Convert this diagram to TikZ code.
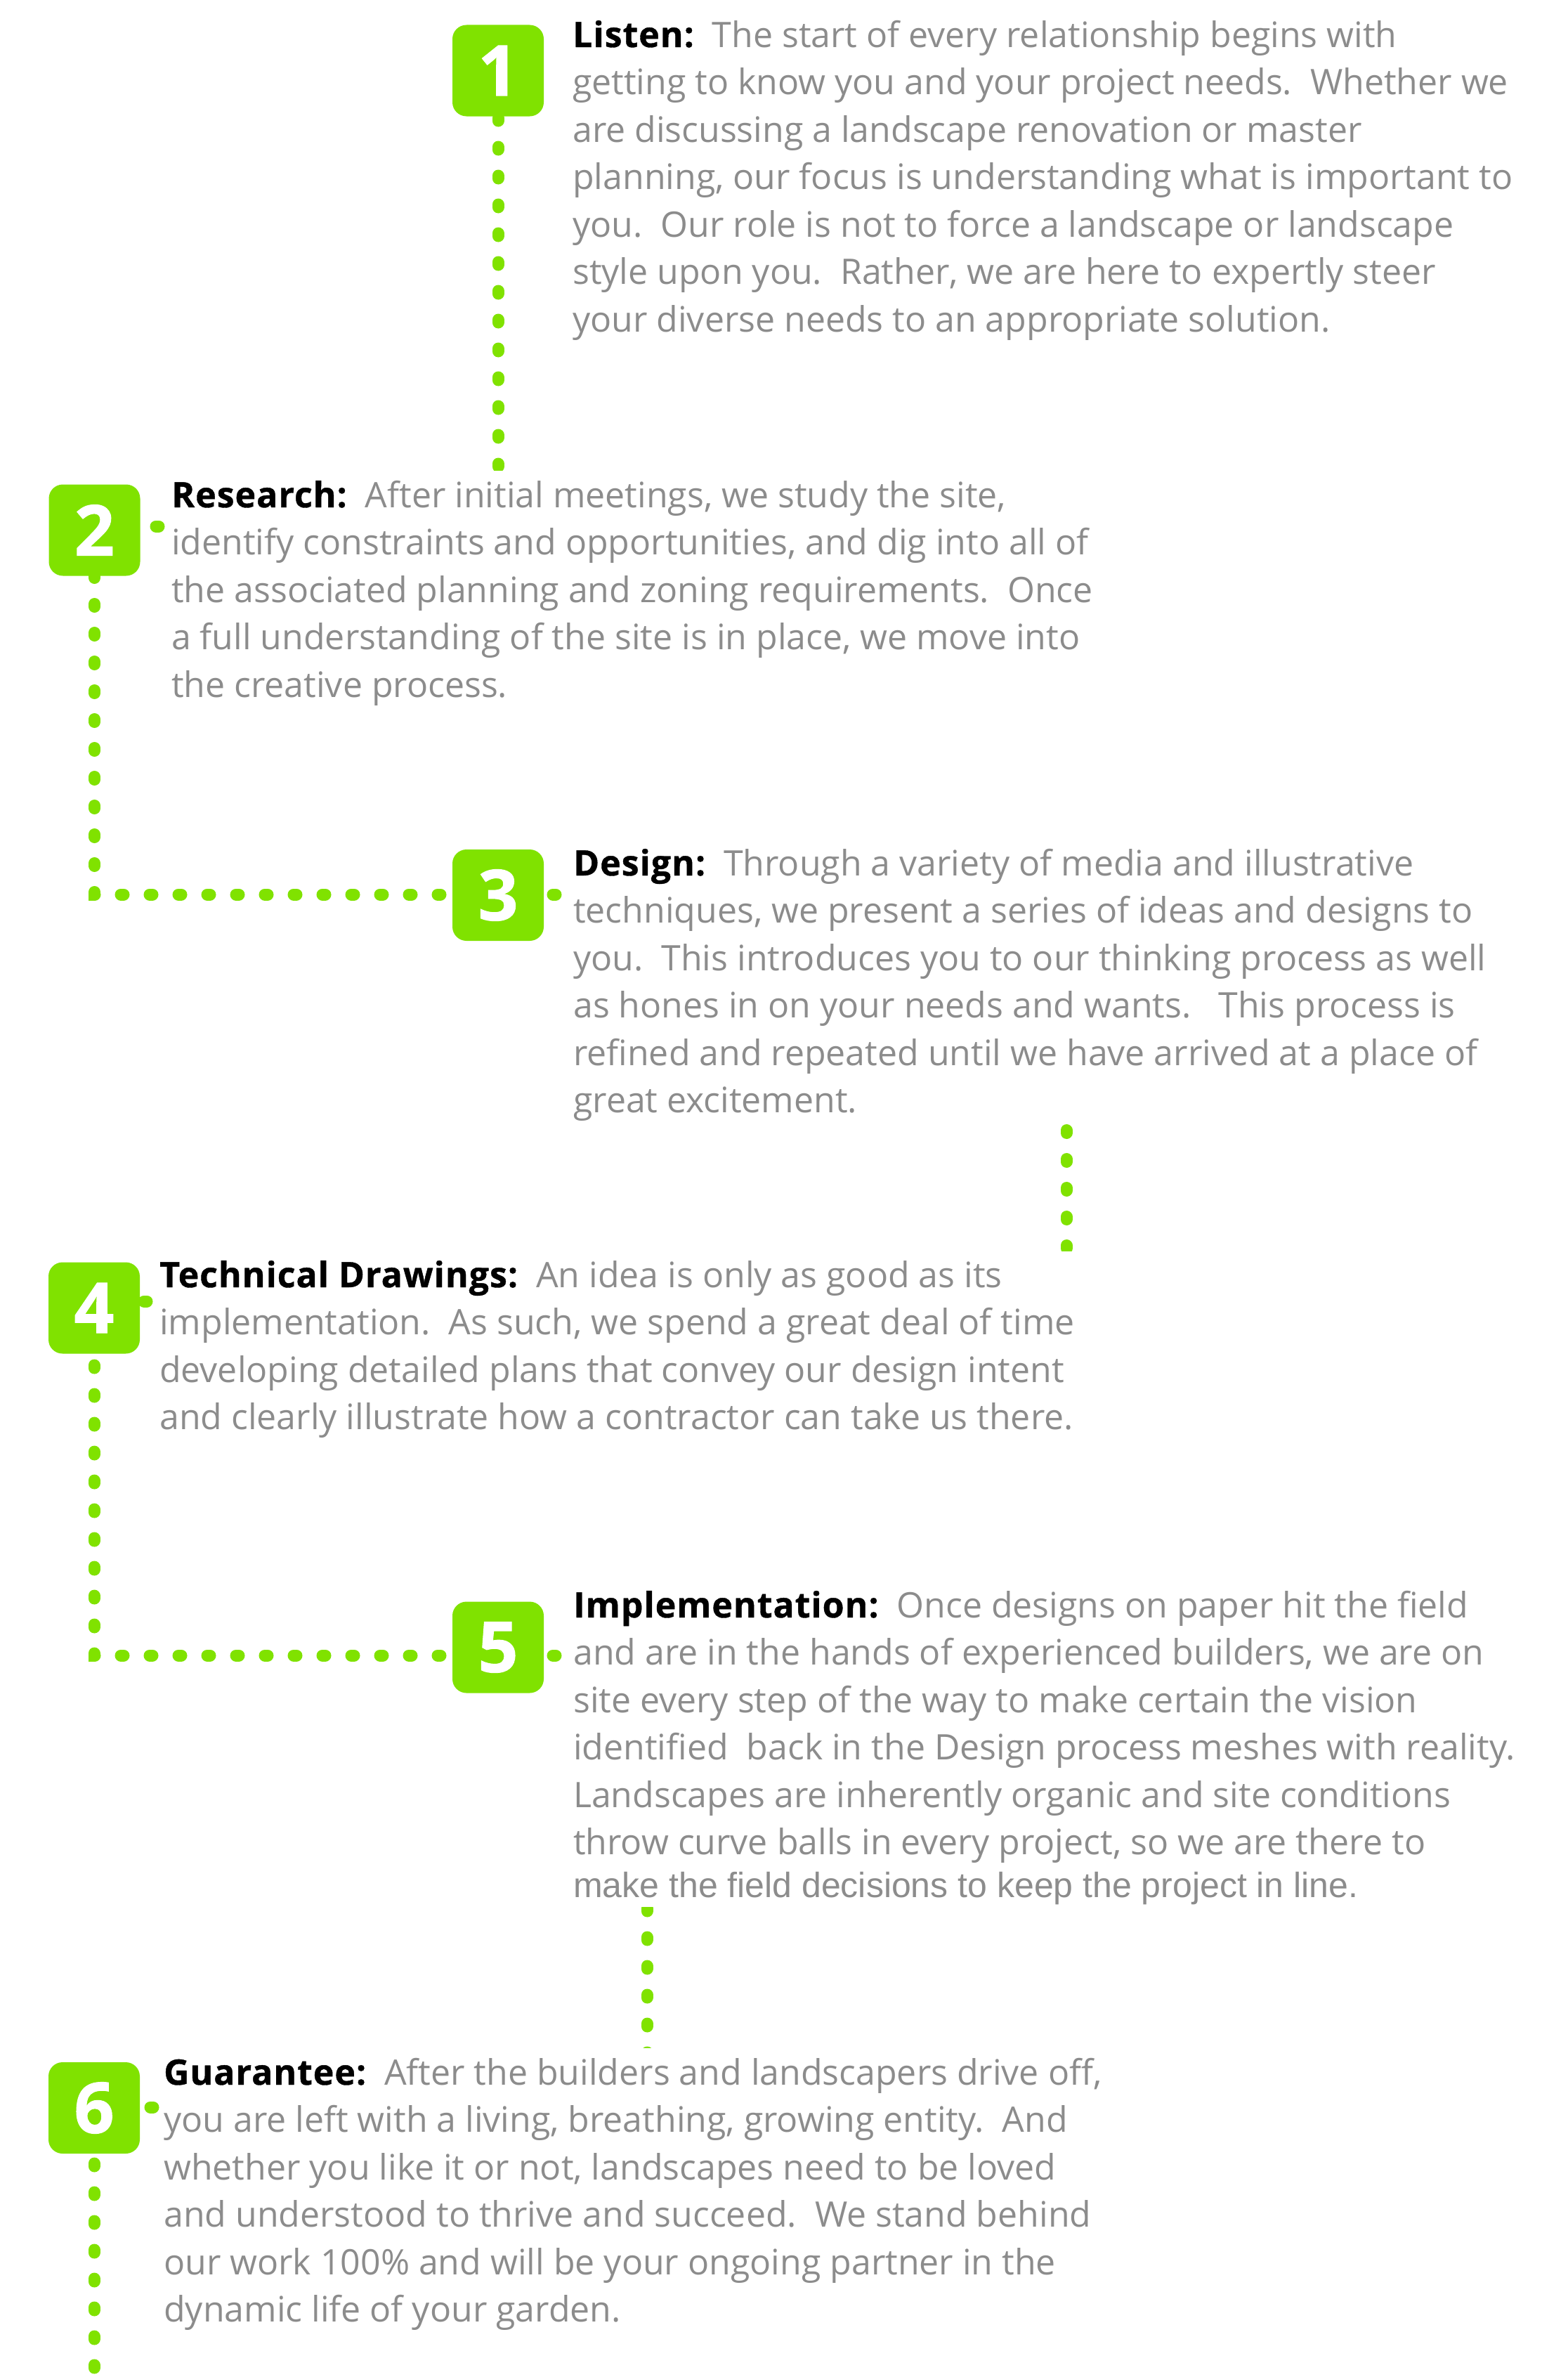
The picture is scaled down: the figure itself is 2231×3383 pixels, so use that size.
\documentclass[tikz,border=0pt]{standalone}
\usepackage{fontspec}
\setmainfont{Open Sans}
\newfontfamily\arialf{Liberation Sans}
\newfontfamily\ttlfont[FakeBold=0.8, LetterSpace=2.0]{Open Sans}
\newfontfamily\numf[FakeBold=1]{Open Sans}
\usetikzlibrary{backgrounds}
\definecolor{lgreen}{RGB}{128,226,0}
\definecolor{txtgray}{RGB}{140,140,140}
\newcommand\bodyfont{\fontsize{50}{67.5}\selectfont}
\newcommand\numfont{\numf\fontsize{100}{100}\selectfont\bfseries}
\newcommand\ttl[1]{{\color{black}\ttlfont\bfseries #1}\ \ }
\tikzset{
  dotline/.style={draw=lgreen, line width=17pt, line cap=round, dash pattern=on 4pt off 37pt},
  badge/.style={fill=lgreen, rounded corners=20pt, minimum width=130pt, minimum height=130pt, inner sep=0pt, text=white, font=\numfont},
  body/.style={anchor=base west, inner sep=0pt, align=left, text=txtgray, font=\bodyfont}
}
\begin{document}
\begin{tikzpicture}[x=1pt,y=-1pt]
\useasboundingbox (0,0) rectangle (2231,3383);
% badges
\node[badge] (b1) at (709,100.5) {1};
\node[badge] (b2) at (134.5,754.5) {2};
\node[badge] (b3) at (709,1274) {3};
\node[badge] (b4) at (134,1861.5) {4};
\node[badge] (b5) at (709,2344.5) {5};
\node[badge] (b6) at (134,3000) {6};
% texts (anchored at the baseline of their last line)
\node[body] (t1) at (815,472) {\ttl{Listen:}The start of every relationship begins with\\
getting to know you and your project needs.\ \ Whether we\\
are discussing a landscape renovation or master\\
planning, our focus is understanding what is important to\\
you.\ \ Our role is not to force a landscape or landscape\\
style upon you.\ \ Rather, we are here to expertly steer\\
your diverse needs to an appropriate solution.};
\node[body] (t2) at (244,992) {\ttl{Research:}After initial meetings, we study the site,\\
identify constraints and opportunities, and dig into all of\\
the associated planning and zoning requirements.\ \ Once\\
a full understanding of the site is in place, we move into\\
the creative process.};
\node[body] (t3) at (816,1583.5) {\ttl{Design:}Through a variety of media and illustrative\\
techniques, we present a series of ideas and designs to\\
you.\ \ This introduces you to our thinking process as well\\
as hones in on your needs and wants.\ \ \ This process is\\
refined and repeated until we have arrived at a place of\\
great excitement.};
\node[body] (t4) at (227,2034.5) {\ttl{Technical Drawings:}An idea is only as good as its\\
implementation.\ \ As such, we spend a great deal of time\\
developing detailed plans that convey our design intent\\
and clearly illustrate how a contractor can take us there.};
\node[body] (t5) at (816,2639.5) {\ttl{Implementation:}Once designs on paper hit the field\\
and are in the hands of experienced builders, we are on\\
site every step of the way to make certain the vision\\
identified\ \ back in the Design process meshes with reality.\\
Landscapes are inherently organic and site conditions\\
throw curve balls in every project, so we are there to};
\node[body, font=\arialf\fontsize{50}{60}\selectfont] (t5b) at (816,2700) {make the field decisions to keep the project in line.};
\node[body] (t6) at (233,3304.5) {\ttl{Guarantee:}After the builders and landscapers drive off,\\
you are left with a living, breathing, growing entity.\ \ And\\
whether you like it or not, landscapes need to be loved\\
and understood to thrive and succeed.\ \ We stand behind\\
our work 100\% and will be your ongoing partner in the\\
dynamic life of your garden.};
% connector coordinates
\coordinate (e1) at (709,664);
\coordinate (s2) at (226,749);
\coordinate (s3) at (791,1273);
\coordinate (a34) at (1518,1608.5);
\coordinate (e34) at (1518,1790);
\coordinate (s4) at (209,1852);
\coordinate (s5) at (791,2356);
\coordinate (a56) at (921,2716);
\coordinate (e56) at (921,2935);
\coordinate (s6) at (218,2999);
\coordinate (e6) at (134,3400);
\begin{pgfonlayer}{background}
  \fill[white] (0,0) rectangle (2231,3383);
  \begin{scope}
    \clip (680,0) rectangle (740,669);
    \draw[dotline] (e1) -- (b1.center);
  \end{scope}
  \draw[dotline] (s2) -- (s2 -| b2.center);
  \draw[dotline] (s3) -| (b2.center);
  \begin{scope}
    \clip (1490,1580) rectangle (1550,1780);
    \draw[dotline] (a34) -- (e34);
  \end{scope}
  \draw[dotline] (s4) -- (s4 -| b4.center);
  \draw[dotline] (s5) -| (b4.center);
  \begin{scope}
    \clip (890,2714) rectangle (950,2914);
    \draw[dotline] (a56) -- (e56);
  \end{scope}
  \draw[dotline] (s6) -| (e6);
\end{pgfonlayer}
\end{tikzpicture}
\end{document}
